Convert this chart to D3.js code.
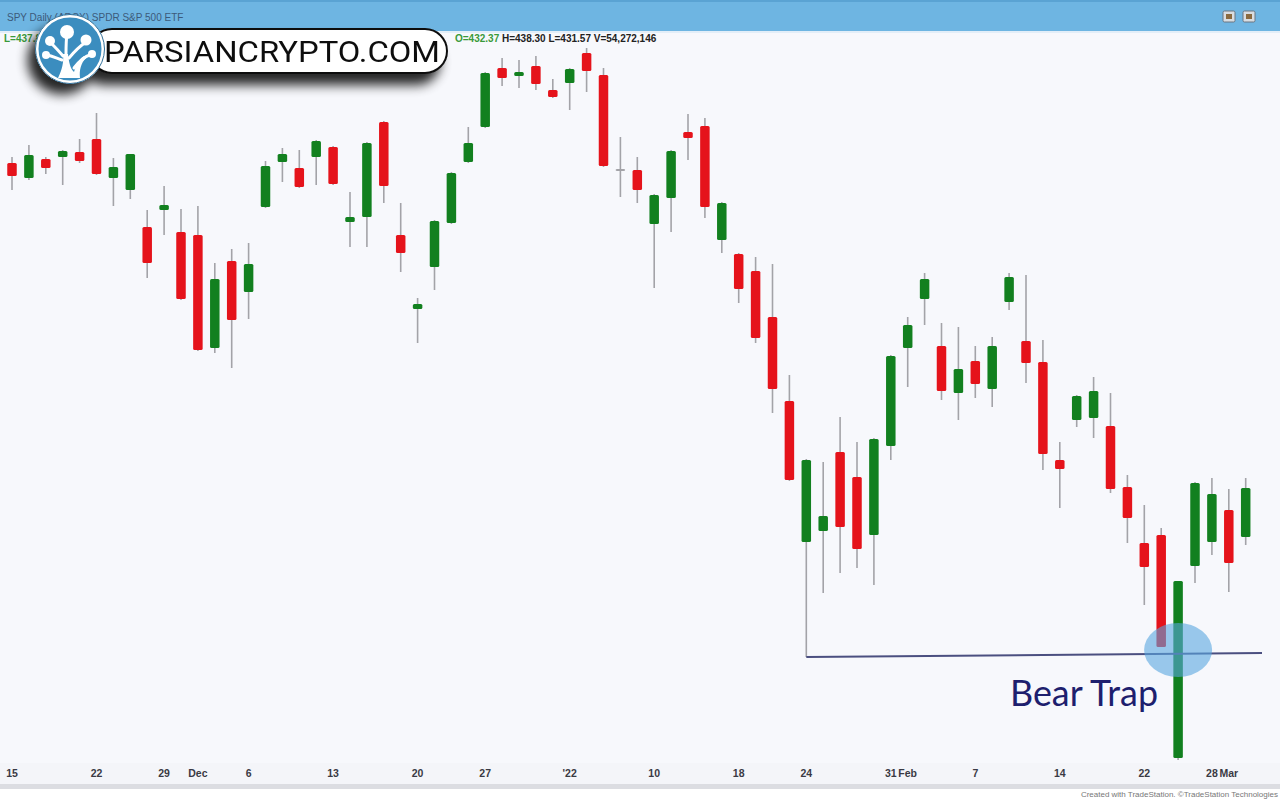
<!DOCTYPE html>
<html>
<head>
<meta charset="utf-8">
<script src="https://cdn.jsdelivr.net/npm/d3@7"></script>
<style>
  html, body { margin: 0; padding: 0; background: #f7f8fc; }
  svg { display: block; }
</style>
</head>
<body>
<script>
// ---------------- DATA ----------------
const dates = ["2021-11-12","2021-11-15","2021-11-16","2021-11-17","2021-11-18","2021-11-19",
  "2021-11-22","2021-11-23","2021-11-24","2021-11-26","2021-11-29","2021-11-30",
  "2021-12-01","2021-12-02","2021-12-03","2021-12-06","2021-12-07","2021-12-08","2021-12-09","2021-12-10",
  "2021-12-13","2021-12-14","2021-12-15","2021-12-16","2021-12-17",
  "2021-12-20","2021-12-21","2021-12-22","2021-12-23",
  "2021-12-27","2021-12-28","2021-12-29","2021-12-30","2021-12-31",
  "2022-01-03","2022-01-04","2022-01-05","2022-01-06","2022-01-07",
  "2022-01-10","2022-01-11","2022-01-12","2022-01-13","2022-01-14",
  "2022-01-18","2022-01-19","2022-01-20","2022-01-21",
  "2022-01-24","2022-01-25","2022-01-26","2022-01-27","2022-01-28",
  "2022-01-31","2022-02-01","2022-02-02","2022-02-03","2022-02-04",
  "2022-02-07","2022-02-08","2022-02-09","2022-02-10","2022-02-11",
  "2022-02-14","2022-02-15","2022-02-16","2022-02-17","2022-02-18",
  "2022-02-22","2022-02-23","2022-02-24","2022-02-25",
  "2022-02-28","2022-03-01","2022-03-02"];

const opens = [467.2,470.7,469.2,471.1,471.3,471.8, 473.1,469.2,468.0,464.3,466.0,463.8,
  463.5,452.2,460.9,457.8,466.3,470.8,470.2,471.3, 472.3,464.8,465.3,474.8,463.5,
  456.1,460.3,464.7,470.8, 474.3,480.2,479.4,480.4,478.0,
  478.7,481.7,479.5,470.1,470.0, 464.6,467.2,473.8,474.4,463.0,
  461.6,459.9,455.3,446.9, 432.8,433.9,441.8,439.3,433.5,
  442.4,452.2,457.1,452.4,447.7, 450.9,448.1,456.8,452.9,450.8,
  441.0,445.0,445.2,444.4,438.3, 432.7,433.5,411.2,430.4, 432.8,436.0,433.3];

const highs = [470.0,471.3,472.5,471.3,472.0,473.1, 475.7,471.2,471.6,466.0,468.4,466.1,
  466.4,460.7,462.1,462.7,470.9,472.2,472.0,473.0, 472.4,467.8,472.8,474.9,466.7,
  457.2,465.0,469.8,474.3, 479.8,481.2,481.0,481.4,479.1,
  480.2,482.2,480.2,473.3,471.3, 467.6,472.0,475.6,475.2,466.8,
  461.7,461.3,460.6,449.5, 441.1,440.8,445.3,442.8,443.2,
  451.5,455.3,459.7,454.7,454.3, 452.4,453.3,459.7,459.5,453.0,
  442.8,447.5,449.3,447.7,439.5, 436.5,434.2,428.9,438.8, 439.2,438.1,439.2];

const lows = [466.5,468.0,469.0,469.6,468.5,470.7, 469.5,466.4,467.1,459.2,463.5,457.0,
  451.9,451.7,450.2,455.1,466.2,468.8,468.2,468.5, 468.5,462.3,462.3,466.7,459.8,
  452.7,458.0,464.6,470.7, 474.2,478.4,478.2,478.0,477.2,
  476.0,477.8,470.3,467.3,466.7, 458.2,463.8,471.0,465.2,461.7,
  456.7,452.7,445.7,438.9, 421.3,427.7,429.7,430.2,428.5,
  441.0,448.3,454.5,447.0,445.0, 447.2,446.3,456.0,448.7,440.0,
  436.2,444.3,443.2,437.7,432.7, 426.5,422.3,411.0,428.7, 431.5,427.8,432.5];

const closes = [469.3,469.4,471.5,470.2,471.9,470.9, 469.6,470.3,471.6,460.7,466.5,457.1,
  452.0,459.1,455.0,460.6,470.4,471.6,468.3,472.9, 468.6,465.3,472.7,468.4,461.7,
  456.6,464.9,469.7,472.7, 479.7,479.2,479.8,478.6,477.3,
  480.1,479.9,470.4,470.1,468.0, 467.5,471.9,473.2,466.3,466.7,
  458.1,453.2,448.1,439.0, 441.0,435.4,434.3,432.1,443.1,
  451.4,454.5,459.1,447.9,450.1, 448.6,452.4,459.3,450.7,441.6,
  440.1,447.4,447.9,438.1,435.2, 430.3,422.3,428.9,438.7, 437.6,430.7,438.2];

// x-axis tick labels (date at which each label sits)
const tickDates  = ["2021-11-15","2021-11-22","2021-11-29","2021-12-01","2021-12-06","2021-12-13",
  "2021-12-20","2021-12-27","2022-01-03","2022-01-10","2022-01-18","2022-01-24",
  "2022-01-31","2022-02-01","2022-02-07","2022-02-14","2022-02-22","2022-02-28","2022-03-01"];
const tickLabels = ["15","22","29","Dec","6","13","20","27","'22","10","18","24",
  "31","Feb","7","14","22","28","Mar"];

// annotation data
const trapSupportDate = "2022-01-24";   // low that defines the support line
const trapDate = "2022-02-24";          // the bear-trap candle
const trapLabel = "Bear Trap";

// ---------------- DRAW ----------------
const W = 1280, H = 800;
const svg = d3.select("body").append("svg").attr("width", W).attr("height", H);

const defs = svg.append("defs");
const f = defs.append("filter").attr("id", "shadow").attr("x", "-30%").attr("y", "-30%").attr("width", "170%").attr("height", "220%");
f.append("feGaussianBlur").attr("in", "SourceAlpha").attr("stdDeviation", 6);
f.append("feOffset").attr("dx", -8).attr("dy", 11).attr("result", "ob");
f.append("feComponentTransfer").append("feFuncA").attr("type", "linear").attr("slope", 0.85);
const fm = f.append("feMerge"); fm.append("feMergeNode"); fm.append("feMergeNode").attr("in", "SourceGraphic");

// backgrounds
svg.append("rect").attr("x", 0).attr("y", 0).attr("width", W).attr("height", H).attr("fill", "#f7f8fc");

const data = dates.map((d, i) => ({ date: d, i, o: opens[i], h: highs[i], l: lows[i], c: closes[i] }));

const x = d3.scaleLinear().domain([1, dates.length - 1]).range([12, 1245.7]);
const y = d3.scaleLinear().domain([411, 482]).range([760, 50]);

const plot = svg.append("g");
const upCol = "#12801f", dnCol = "#e5131b", wickCol = "#a3a3a8";

// wicks
plot.selectAll("line.wick").data(data).join("line")
  .attr("class", "wick")
  .attr("x1", d => x(d.i)).attr("x2", d => x(d.i))
  .attr("y1", d => y(d.h)).attr("y2", d => y(d.l))
  .attr("stroke", wickCol).attr("stroke-width", 1.6);

// bodies
const bw = 9.5;
plot.selectAll("rect.body").data(data).join("rect")
  .attr("class", "body")
  .attr("x", d => x(d.i) - bw / 2)
  .attr("width", bw)
  .attr("y", d => y(Math.max(d.o, d.c)))
  .attr("height", d => Math.max(2, Math.abs(y(d.o) - y(d.c))))
  .attr("rx", 1.5)
  .attr("fill", d => d.c > d.o ? upCol : (d.c < d.o ? dnCol : wickCol));

// support line from Jan 24 low
const sup = data[dates.indexOf(trapSupportDate)];
const trap = data[dates.indexOf(trapDate)];
plot.append("line")
  .attr("x1", x(sup.i)).attr("x2", 1262)
  .attr("y1", y(sup.l)).attr("y2", y(sup.l) - 4)
  .attr("stroke", "#4b4f80").attr("stroke-width", 2);

// highlight ellipse
plot.append("ellipse")
  .attr("cx", x(trap.i)).attr("cy", y(sup.l) - 7)
  .attr("rx", 34).attr("ry", 27)
  .attr("fill", "rgba(88,166,224,0.6)");

plot.append("text")
  .attr("x", 1010).attr("y", 706)
  .attr("font-family", "Lato, 'Open Sans', sans-serif")
  .attr("font-size", 37)
  .attr("textLength", 148).attr("lengthAdjust", "spacingAndGlyphs")
  .attr("fill", "#1e1f6e")
  .text(trapLabel);

// x axis labels
const axisG = svg.append("g");
axisG.append("rect").attr("x", 0).attr("y", 763).attr("width", W).attr("height", 21).attr("fill", "#f4f5f9");
axisG.selectAll("text").data(tickDates).join("text")
  .attr("x", d => x(dates.indexOf(d)))
  .attr("y", 777)
  .attr("text-anchor", "middle")
  .attr("font-family", "'Liberation Sans', Arial, sans-serif")
  .attr("font-size", 10.5).attr("font-weight", "bold")
  .attr("fill", "#3a3a44")
  .text((d, i) => tickLabels[i]);
svg.append("rect").attr("x", 0).attr("y", 784).attr("width", W).attr("height", 5).attr("fill", "#dcdde2");
svg.append("rect").attr("x", 0).attr("y", 789).attr("width", W).attr("height", 11).attr("fill", "#ffffff");
svg.append("text").attr("x", 1278).attr("y", 797).attr("text-anchor", "end")
  .attr("font-family", "'Liberation Sans', Arial, sans-serif").attr("font-size", 8)
  .attr("fill", "#777").text("Created with TradeStation. ©TradeStation Technologies");

// title bar
svg.append("rect").attr("x", 0).attr("y", 0).attr("width", W).attr("height", 31).attr("fill", "#6eb5e2");
svg.append("rect").attr("x", 0).attr("y", 0).attr("width", W).attr("height", 2).attr("fill", "#5aa3d3");
svg.append("rect").attr("x", 0).attr("y", 31).attr("width", W).attr("height", 2).attr("fill", "#e3eef8");
svg.append("text").attr("x", 7).attr("y", 21)
  .attr("font-family", "'Liberation Sans', Arial, sans-serif").attr("font-size", 10)
  .attr("fill", "#3c5a7a").text("SPY Daily (ARCX) SPDR S&P 500 ETF");
[1223, 1243].forEach(px => {
  svg.append("rect").attr("x", px).attr("y", 11).attr("width", 12).attr("height", 11).attr("rx", 1.5)
    .attr("fill", "#d8dde2").attr("stroke", "#6a7580").attr("stroke-width", 1);
  svg.append("rect").attr("x", px + 3).attr("y", 14).attr("width", 6).attr("height", 5).attr("fill", "#8a6a40");
});

// data line
const info = svg.append("text").attr("x", 455).attr("y", 42)
  .attr("font-family", "'Liberation Sans', Arial, sans-serif").attr("font-size", 10).attr("font-weight", "bold");
info.append("tspan").attr("fill", "#3a9a3a").text("O=432.37");
info.append("tspan").attr("fill", "#222").text("  H=438.30  L=431.57  V=54,272,146");
svg.append("text").attr("x", 4).attr("y", 42)
  .attr("font-family", "'Liberation Sans', Arial, sans-serif").attr("font-size", 10).attr("font-weight", "bold")
  .attr("fill", "#3a9a3a").text("L=437.89");

// logo
const logo = svg.append("g").attr("filter", "url(#shadow)");
logo.append("rect").attr("x", 90).attr("y", 29).attr("width", 357).attr("height", 44).attr("rx", 22)
  .attr("fill", "#ffffff").attr("stroke", "#111").attr("stroke-width", 2);
logo.append("circle").attr("cx", 70).attr("cy", 49).attr("r", 34.5).attr("fill", "#ffffff");
logo.append("text").attr("x", 104).attr("y", 62)
  .attr("font-family", "Roboto, 'Open Sans', sans-serif").attr("font-size", 30)
  .attr("textLength", 336).attr("lengthAdjust", "spacingAndGlyphs")
  .attr("fill", "#111").text("PARSIANCRYPTO.COM");
const lg = svg.append("g");
lg.append("circle").attr("cx", 70).attr("cy", 49).attr("r", 33).attr("fill", "#3b8dbf").attr("stroke", "#ffffff").attr("stroke-width", 3);
lg.append("circle").attr("cx", 70).attr("cy", 49).attr("r", 34.5).attr("fill", "none").attr("stroke", "#2f6f99").attr("stroke-width", 1);
// stylised tree
lg.append("path").attr("d", "M58 78 C62 70 64 62 63 54 L68 54 C69 62 70 68 74 72 C76 66 78 60 84 56 L86 58 C81 63 79 70 80 78 Z")
  .attr("fill", "#ffffff");
lg.append("path").attr("d", "M63 56 C58 50 54 46 50 42 M66 55 C66 48 66 40 67 34 M69 58 C74 52 80 46 86 42 M74 68 C80 60 86 56 92 54 M62 60 C56 58 52 56 47 55")
  .attr("fill", "none").attr("stroke", "#ffffff").attr("stroke-width", 3).attr("stroke-linecap", "round");
[[67,32,7],[50,41,5],[86,40,5.5],[92,54,4],[46,55,4]].forEach(c => {
  lg.append("circle").attr("cx", c[0]).attr("cy", c[1]).attr("r", c[2]).attr("fill", "#ffffff");
});
</script>
</body>
</html>
